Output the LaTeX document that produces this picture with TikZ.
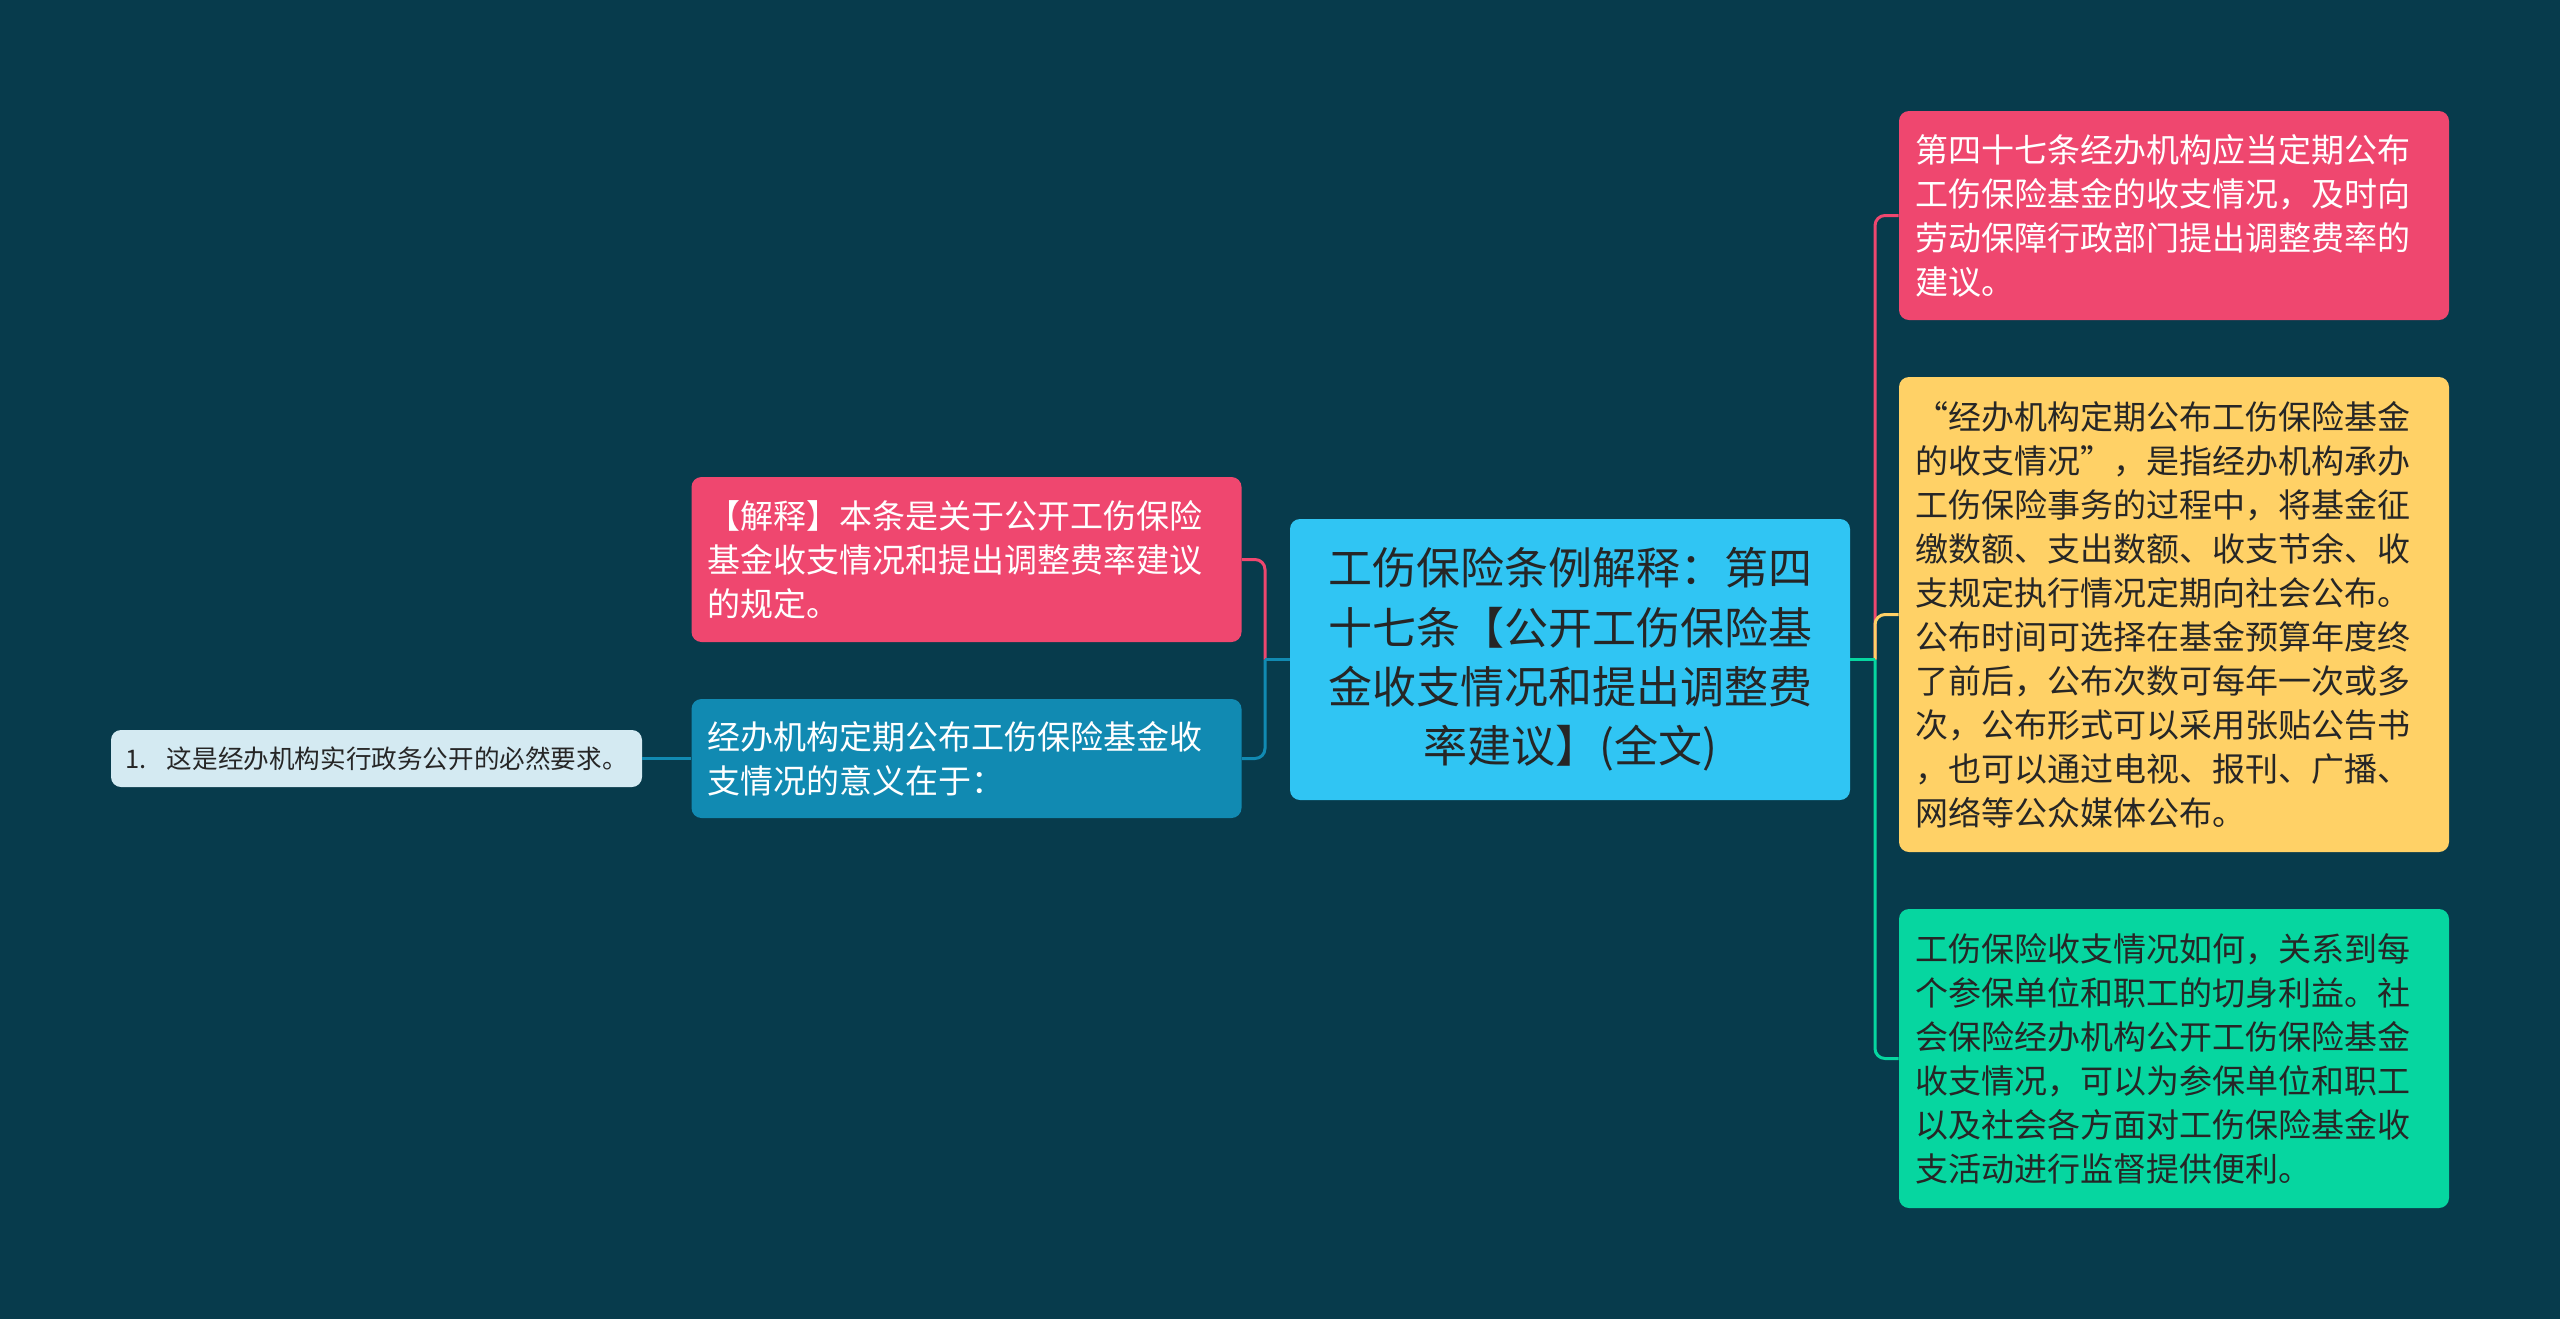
\documentclass[tikz,border=0pt]{standalone}
\usepackage{fontspec}
\setmainfont{Noto Sans CJK SC}

\definecolor{bgdark}{HTML}{073B4C}
\definecolor{rosered}{HTML}{EF476F}
\definecolor{sunyellow}{HTML}{FFD166}
\definecolor{mintgreen}{HTML}{06D6A0}
\definecolor{seablue}{HTML}{118AB2}
\definecolor{skyblue}{HTML}{30C5F3}
\definecolor{paleblue}{HTML}{D4EAF2}
\definecolor{inkdark}{HTML}{262626}

\tikzset{
  box/.style={rounded corners=5pt, inner xsep=8pt, inner ysep=0pt, align=left, anchor=center},
  mainbox/.style={box, fill=skyblue, text=inkdark, align=center, inner xsep=16pt,
    text width=248pt, minimum height=140.5pt, font=\fontsize{22pt}{29.7pt}\selectfont},
  leafbox/.style={box, text width=259pt, font=\fontsize{16.5pt}{22pt}\selectfont},
  itembox/.style={box, fill=paleblue, text=inkdark, inner xsep=7pt, text width=251.5pt,
    minimum height=28.5pt, font=\fontsize{12.8pt}{15pt}\selectfont},
  link/.style={line width=1.5pt, rounded corners=5pt}
}

\begin{document}
\begin{tikzpicture}[x=0.5pt, y=-0.5pt]
  \useasboundingbox[fill=bgdark] (0,0) rectangle (2560,1319);

  % centre topic
  \node[mainbox] (ctr) at (1570,659.5) {工伤保险条例解释：第四\\十七条【公开工伤保险基\\金收支情况和提出调整费\\率建议】(全文)};

  % left side
  \node[leafbox, fill=rosered, text=white, minimum height=82.5pt] (expl) at (966.5,559.5)
    {【解释】本条是关于公开工伤保险\\基金收支情况和提出调整费率建议\\的规定。};
  \node[leafbox, fill=seablue, text=white, minimum height=59.5pt] (mean) at (966.5,758.5)
    {经办机构定期公布工伤保险基金收\\支情况的意义在于：};
  \node[itembox] (item) at (376.5,758.5) {1.\hspace{0.8em}这是经办机构实行政务公开的必然要求。};

  % right side
  \node[leafbox, fill=rosered, text=white, minimum height=104.5pt] (art) at (2174,215.5)
    {第四十七条经办机构应当定期公布\\工伤保险基金的收支情况，及时向\\劳动保障行政部门提出调整费率的\\建议。};
  \node[leafbox, fill=sunyellow, text=inkdark, minimum height=237.5pt] (note) at (2174,614.5)
    {“经办机构定期公布工伤保险基金\\的收支情况”，是指经办机构承办\\工伤保险事务的过程中，将基金征\\缴数额、支出数额、收支节余、收\\支规定执行情况定期向社会公布。\\公布时间可选择在基金预算年度终\\了前后，公布次数可每年一次或多\\次，公布形式可以采用张贴公告书\\，也可以通过电视、报刊、广播、\\网络等公众媒体公布。};
  \node[leafbox, fill=mintgreen, text=inkdark, minimum height=149.5pt] (benef) at (2174,1058.5)
    {工伤保险收支情况如何，关系到每\\个参保单位和职工的切身利益。社\\会保险经办机构公开工伤保险基金\\收支情况，可以为参保单位和职工\\以及社会各方面对工伤保险基金收\\支活动进行监督提供便利。};

  \coordinate (jl) at (1265,659.5);
  \coordinate (jr) at (1875,659.5);

  % connectors
  \draw[link, rosered] (jl) |- (expl.east);
  \draw[link, seablue] (jl) |- (mean.east);
  \draw[link, seablue] (ctr.west) -- (jl);
  \draw[link, seablue] (mean.west) -- (item.east);
  \draw[link, rosered] (jr) |- (art.west);
  \draw[link, sunyellow] (jr) |- (note.west);
  \draw[link, mintgreen] (jr) |- (benef.west);
  \draw[link, mintgreen] (ctr.east) -- (jr);
\end{tikzpicture}
\end{document}
